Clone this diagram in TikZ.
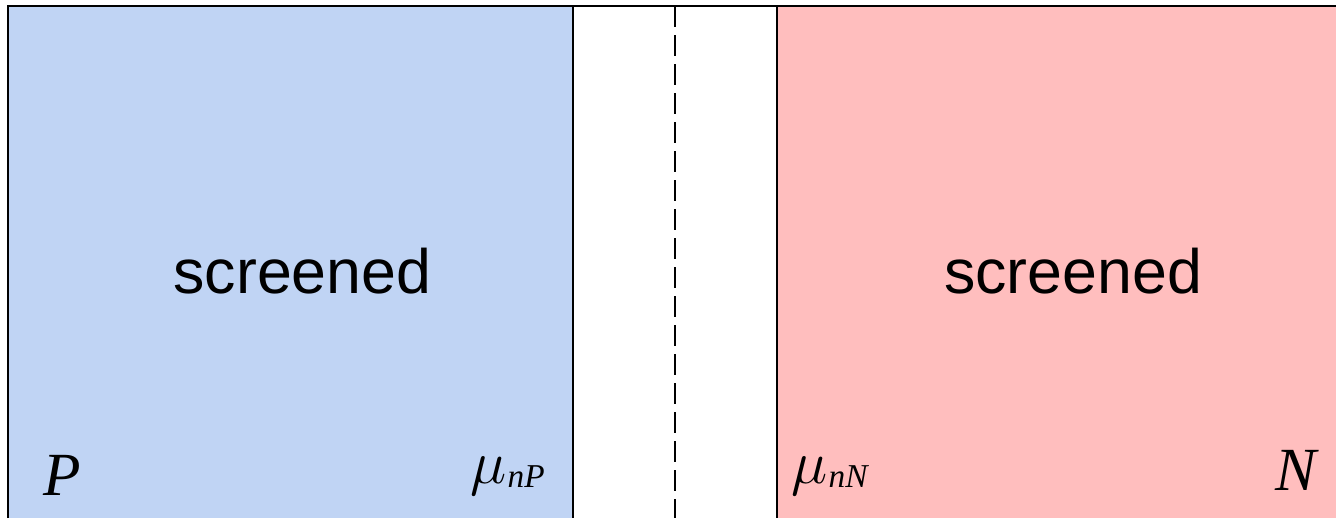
\RequirePackage{fix-cm}
\documentclass[tikz,border=0pt]{standalone}
\usepackage{fontspec}
\setmainfont{Liberation Sans}
\newfontfamily\tms{Liberation Serif}
\usepackage{tikz}
\usetikzlibrary{positioning}
\definecolor{pside}{RGB}{192,212,244}
\definecolor{nside}{RGB}{255,190,190}
\newcommand{\subsc}[1]{\raisebox{-3pt}{\fontsize{25}{28}\selectfont #1}}
\tikzset{
  wall/.style={line width=1.6pt},
  gap/.style={line width=1.4pt,dash pattern=on 15.75pt off 6pt},
  lbl/.style={font=\fontsize{47}{52}\selectfont,inner sep=0pt,anchor=base},
  sym/.style={font=\tms\itshape\fontsize{46}{52}\selectfont,inner sep=0pt,anchor=base west},
}

\begin{document}
\begin{tikzpicture}[x=0.75pt,y=-0.75pt]
  \useasboundingbox (0,0) rectangle (1336,518);
  % p and n sides
  \fill[pside] (8,6) rectangle (573,518);
  \fill[nside] (777,6) rectangle (1336,518);
  \draw[wall] (8,518) -- (8,6) -- (1336,6);
  \draw[wall] (573,6) -- (573,518);
  \draw[wall] (777,6) -- (777,518);
  \draw[gap] (675,6) -- (675,518);
  \node[lbl] (pscr) at (302.5,293) {screened};
  \node[lbl] (nscr) at (1073,293) {screened};
  \node[sym] (p) at (43,495) {P};
  \node[sym] (mup) at (470,483) {$\mu$\hspace{1pt}\subsc{nP}};
  \node[sym] (mun) at (791,483) {$\mu$\hspace{1pt}\subsc{nN}};
  \node[sym] (n) at (1275,490) {N};
\end{tikzpicture}
\end{document}
